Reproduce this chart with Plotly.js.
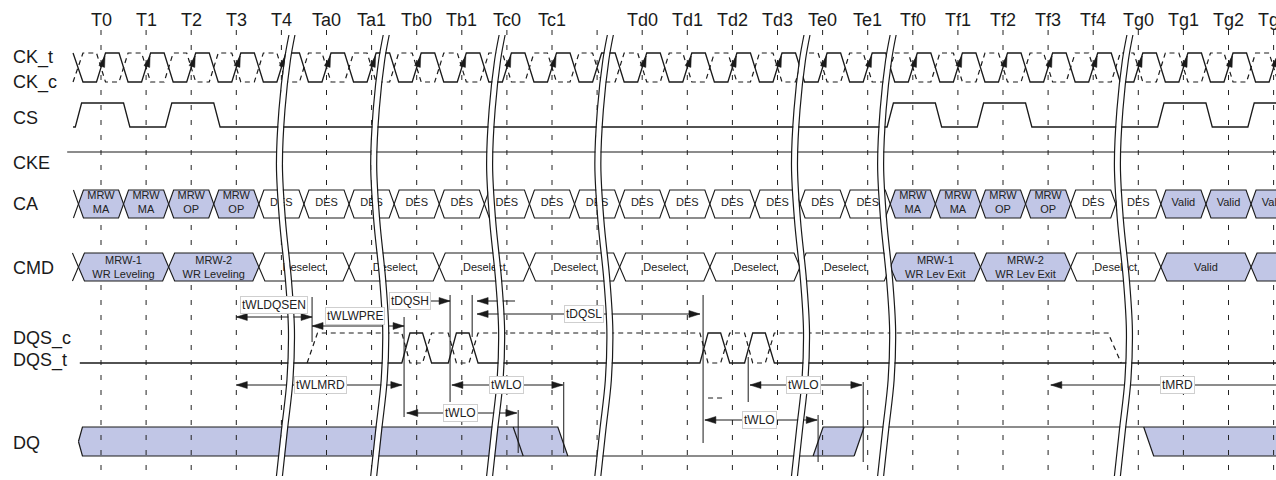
<!DOCTYPE html>
<html><head><meta charset="utf-8">
<script src="https://cdn.plot.ly/plotly-3.0.1.min.js"></script>
<style>html,body{margin:0;padding:0;background:#fff}#chart{width:1276px;height:480px}</style>
</head><body><div id="chart"></div>
<script>
// ---------------- DATA ----------------
const clockLabels = ['T0','T1','T2','T3','T4','Ta0','Ta1','Tb0','Tb1','Tc0','Tc1','','Td0','Td1','Td2','Td3','Te0','Te1','Tf0','Tf1','Tf2','Tf3','Tf4','Tg0','Tg1','Tg2','Tg3'];
const clockCycles = clockLabels.map((_, i) => i);
const signalNames = ['CK_t','CK_c','CS','CKE','CA','CMD','DQS_c','DQS_t','DQ'];
const csHighCycles = [0, 2, 18, 20, 24, 26];
const caLine1 = ['MRW','MRW','MRW','MRW','DES','DES','DES','DES','DES','DES','DES','DES','DES','DES','DES','DES','DES','DES','MRW','MRW','MRW','MRW','DES','DES','Valid','Valid','Valid'];
const caLine2 = ['MA','MA','OP','OP','','','','','','','','','','','','','','','MA','MA','OP','OP','','','','',''];
const caHighlight = [1,1,1,1,0,0,0,0,0,0,0,0,0,0,0,0,0,0,1,1,1,1,0,0,1,1,1];
const cmdStart = [-0.5, 1.5, 3.5, 5.5, 7.5, 9.5, 11.5, 13.5, 15.5, 17.5, 19.5, 21.5, 23.5, 25.5];
const cmdLine1 = ['MRW-1','MRW-2','Deselect','Deselect','Deselect','Deselect','Deselect','Deselect','Deselect','MRW-1','MRW-2','Deselect','Valid',''];
const cmdLine2 = ['WR Leveling','WR Leveling','','','','','','','','WR Lev Exit','WR Lev Exit','','',''];
const cmdHighlight = [1,1,0,0,0,0,0,0,0,1,1,0,1,1];
const dqsPulseCenters = [6.99, 8.02, 13.6, 14.59];
const dqsCActive = [4.68, 22.47];
const dqBand1 = [-0.5, 9.25, 10.24];   // start, early edge, late edge
const dqRiseWindow = [15.9, 16.81];
const dqBand2Start = 23.23;
const timingNames = ['tWLDQSEN','tWLWPRE','tDQSH','tDQSL','tWLMRD','tWLO','tWLO','tWLO','tWLO','tMRD'];
const timingStart = [3.0, 4.68, 7.74, 8.34, 3.0, 7.78, 6.78, 14.39, 13.39, 21.06];
const timingEnd   = [4.68, 6.72, 8.34, 13.28, 6.67, 10.24, 9.22, 16.87, 15.88, 26.4];
const markerCycles = [4.68, 6.72, 7.74, 8.23, 13.35, 14.35, 9.25, 10.26, 15.9, 16.9];
const breakCycles = [3.89, 5.98, 8.55, 10.95, 15.31, 17.22, 22.47];

// ---------------- LAYOUT / STYLE ----------------
const PXC = 45.1, T0PX = 101, W = 1276, H = 480;
const px = v => v / PXC;
const R = {ckH:53, ckL:82, csH:103, csL:127, cke:152, caT:190, caB:218, cmdT:253, cmdB:281, dqsH:333, dqsL:363, dqT:427, dqB:456};
const signalY = [57, 82, 118, 163, 204, 268, 338, 360, 443];
const BLUE = '#c1c6e6', INK = '#1a1a1a', FONT = 'Liberation Sans, Arial, sans-serif';
const timingStyle = [
  {y:317, lx:3.84, ly:305, kind:'out'},
  {y:326, lx:5.63, ly:316, kind:'out'},
  {y:301, lx:6.85, ly:301, kind:'in', tailL:0.5, tailR:0.84},
  {y:314, lx:10.71, ly:314, kind:'out'},
  {y:385, lx:4.86, ly:385, kind:'out'},
  {y:385, lx:8.98, ly:385, kind:'out'},
  {y:413, lx:7.98, ly:413, kind:'out'},
  {y:385, lx:15.57, ly:385, kind:'out'},
  {y:420, lx:14.59, ly:420, kind:'out'},
  {y:385, lx:23.86, ly:385, kind:'out'}
];
const markerY = [[297,342],[317,417],[295,402],[295,337],[295,443],[357,402],[410,453],[382,453],[415,462],[382,462]];

const traces = [];
function P(){ return {x:[], y:[]}; }
function add(p, pts){ pts.forEach(q => { p.x.push(q ? q[0] : null); p.y.push(q ? q[1] : null); }); }

// DQ blue areas
const dqFill = P();
const s = px(5);
add(dqFill, [[dqBand1[0], (R.dqT+R.dqB)/2],[dqBand1[0]+px(4),R.dqT],[dqBand1[2]-s,R.dqT],[dqBand1[2]+s,R.dqB],[dqBand1[0]+px(4),R.dqB],[dqBand1[0],(R.dqT+R.dqB)/2],null]);
add(dqFill, [[dqRiseWindow[0]-s,R.dqB],[dqRiseWindow[0]+s,R.dqT],[dqRiseWindow[1]+s,R.dqT],[dqRiseWindow[1]-s,R.dqB],[dqRiseWindow[0]-s,R.dqB],null]);
add(dqFill, [[dqBand2Start-s,R.dqT],[27,R.dqT],[27,R.dqB],[dqBand2Start+s,R.dqB],[dqBand2Start-s,R.dqT],null]);
traces.push({x:dqFill.x, y:dqFill.y, mode:'lines', fill:'toself', fillcolor:BLUE, line:{width:0}, hoverinfo:'skip'});

// grid
const grid = P();
clockCycles.forEach(c => add(grid, [[c,30],[c,H],null]));
traces.push({x:grid.x, y:grid.y, mode:'lines', line:{color:'#222', width:1, dash:'5px,10px'}, hoverinfo:'skip'});

// CA / CMD boxes
function hex(x0, x1, t, b, h){ const m=(t+b)/2; return [[x0,m],[x0+h,t],[x1-h,t],[x1,m],[x1-h,b],[x0+h,b],[x0,m],null]; }
const boxFill = P(), boxLine = P();
const hCA = px(5), hCMD = px(6);
clockCycles.forEach((c,i) => {
  const pts = hex(c-0.5, c+0.5, R.caT, R.caB, hCA);
  add(boxLine, pts); if (caHighlight[i]) add(boxFill, pts);
});
add(boxLine, [[-0.5-hCA,R.caT],[-0.5,(R.caT+R.caB)/2],[-0.5-hCA,R.caB],null]);
cmdStart.forEach((st,i) => {
  const pts = hex(st, st+2, R.cmdT, R.cmdB, hCMD);
  add(boxLine, pts); if (cmdHighlight[i]) add(boxFill, pts);
});
add(boxLine, [[-0.5-hCMD,R.cmdT],[-0.5,(R.cmdT+R.cmdB)/2],[-0.5-hCMD,R.cmdB],null]);
traces.push({x:boxFill.x, y:boxFill.y, mode:'lines', fill:'toself', fillcolor:BLUE, line:{width:0}, hoverinfo:'skip'});

// waveforms
const ckT = P(), ckC = P();
add(ckT, [[-0.62,R.ckH],[-0.4,R.ckL]]); add(ckC, [[-0.62,R.ckL],[-0.4,R.ckH]]);
clockCycles.forEach(k => {
  add(ckT, [[k-0.1,R.ckL],[k+0.1,R.ckH],[k+0.4,R.ckH],[k+0.6,R.ckL]]);
  add(ckC, [[k-0.1,R.ckH],[k+0.1,R.ckL],[k+0.4,R.ckL],[k+0.6,R.ckH]]);
});
traces.push({x:ckC.x, y:ckC.y, mode:'lines', line:{color:INK, width:1.2, dash:'5px,4px'}, hoverinfo:'skip'});
traces.push({x:ckT.x, y:ckT.y, mode:'lines', line:{color:INK, width:1.3}, hoverinfo:'skip'});

const cs = P();
add(cs, [[-0.62, R.csL]]);
csHighCycles.forEach(c => add(cs, [[c-0.57,R.csL],[c-0.43,R.csH],[c+0.5,R.csH],[c+0.64,R.csL]]));
add(cs, [[27,R.csL]]);
traces.push({x:cs.x, y:cs.y, mode:'lines', line:{color:INK, width:1.3}, hoverinfo:'skip'});
traces.push({x:[-0.75, 27], y:[R.cke, R.cke], mode:'lines', line:{color:INK, width:1.2}, hoverinfo:'skip'});
traces.push({x:boxLine.x, y:boxLine.y, mode:'lines', line:{color:INK, width:1.1}, hoverinfo:'skip'});

// DQS
const dqsT = P(), dqsC = P();
add(dqsT, [[-0.47,R.dqsL]]);
add(dqsC, [[dqsCActive[0]-0.11,R.dqsL],[dqsCActive[0]+0.12,R.dqsH]]);
dqsPulseCenters.forEach(c => {
  add(dqsT, [[c-0.32,R.dqsL],[c-0.14,R.dqsH],[c+0.14,R.dqsH],[c+0.34,R.dqsL]]);
  add(dqsC, [[c-0.32,R.dqsH],[c-0.14,R.dqsL],[c+0.14,R.dqsL],[c+0.34,R.dqsH]]);
});
add(dqsT, [[27,R.dqsL]]);
add(dqsC, [[dqsCActive[1]-0.14,R.dqsH],[dqsCActive[1]+0.15,R.dqsL]]);
traces.push({x:dqsC.x, y:dqsC.y, mode:'lines', line:{color:INK, width:1.2, dash:'5px,4px'}, hoverinfo:'skip'});
traces.push({x:[13.46,13.79], y:[398,398], mode:'lines', line:{color:INK, width:1, dash:'5px,4px'}, hoverinfo:'skip'});
traces.push({x:dqsT.x, y:dqsT.y, mode:'lines', line:{color:INK, width:1.3}, hoverinfo:'skip'});

// DQ lines
const dq = P();
add(dq, [[dqBand1[0],(R.dqT+R.dqB)/2],[dqBand1[0]+px(4),R.dqT],[dqBand1[2]-s,R.dqT],[dqBand1[2]+s,R.dqB],null]);
add(dq, [[dqBand1[0],(R.dqT+R.dqB)/2],[dqBand1[0]+px(4),R.dqB],[dqRiseWindow[1]-s,R.dqB],null]);
add(dq, [[dqBand1[1]-s,R.dqT],[dqBand1[1]+s,R.dqB],null]);
add(dq, [[dqRiseWindow[0]-s,R.dqB],[dqRiseWindow[0]+s,R.dqT],[27,R.dqT],null]);
add(dq, [[dqRiseWindow[1]-s,R.dqB],[dqRiseWindow[1]+s,R.dqT],null]);
add(dq, [[dqBand2Start-s,R.dqT],[dqBand2Start+s,R.dqB],[27,R.dqB],null]);
traces.push({x:dq.x, y:dq.y, mode:'lines', line:{color:INK, width:1.2}, hoverinfo:'skip'});

// box texts
traces.push({x:clockCycles, y:clockCycles.map(()=>203), mode:'text',
  text:caLine1.map((a,i)=> caLine2[i] ? a+'<br>'+caLine2[i] : a),
  textfont:{family:FONT, size:11, color:'#222'}, textposition:'middle center', hoverinfo:'skip'});
traces.push({x:cmdStart.map(v=>v+1), y:cmdStart.map(()=>268), mode:'text',
  text:cmdLine1.map((a,i)=> cmdLine2[i] ? a+'<br>'+cmdLine2[i] : a),
  textfont:{family:FONT, size:11, color:'#222'}, textposition:'middle center', hoverinfo:'skip'});

// timing lines, markers, arrowheads
const tl = P(), heads = P();
const L = px(11), hw = 3.5;
function head(xt, y, dir){ add(heads, [[xt,y],[xt-dir*L,y-hw],[xt-dir*L,y+hw],[xt,y],null]); }
timingNames.forEach((n,i) => {
  const st = timingStyle[i], a = timingStart[i], b = timingEnd[i];
  if (st.kind === 'out') { add(tl, [[a,st.y],[b,st.y],null]); head(a,st.y,-1); head(b,st.y,1); }
  else { add(tl, [[a-st.tailL,st.y],[a,st.y],null,[b,st.y],[b+st.tailR,st.y],null]); head(a,st.y,1); head(b,st.y,-1); }
});
markerCycles.forEach((c,i) => add(tl, [[c,markerY[i][0]],[c,markerY[i][1]],null]));
// clock edge arrows
clockCycles.forEach((c,i) => {
  if (!clockLabels[i]) return;
  add(heads, [[c+px(4),56],[c+px(3.6),67.4],[c+px(-2.1),65.6],[c+px(4),56],null]);
});
traces.push({x:tl.x, y:tl.y, mode:'lines', line:{color:INK, width:1}, hoverinfo:'skip'});
traces.push({x:heads.x, y:heads.y, mode:'lines', fill:'toself', fillcolor:INK, line:{color:INK, width:0.5}, hoverinfo:'skip'});

// break marks
const prY = [35, 60, 110, 165, 220, 280, 330, 380, 430, 476];
const prO = [12.5, 8, 2.5, 0, 3, 9, 12, 10.5, 5, 0];
breakCycles.forEach(b => {
  const mk = off => ({x: prO.map(o => b + px(o + off)), y: prY});
  const m = mk(3), l1 = mk(0), l2 = mk(6);
  traces.push({x:m.x, y:m.y, mode:'lines', line:{color:'#fff', width:5, shape:'spline'}, hoverinfo:'skip'});
  traces.push({x:l1.x, y:l1.y, mode:'lines', line:{color:INK, width:1.2, shape:'spline'}, hoverinfo:'skip'});
  traces.push({x:l2.x, y:l2.y, mode:'lines', line:{color:INK, width:1.2, shape:'spline'}, hoverinfo:'skip'});
});

// annotations
const ann = [];
clockCycles.forEach((c,i) => { if (clockLabels[i]) ann.push({x:c, y:20, xref:'x', yref:'y', text:clockLabels[i], showarrow:false, font:{family:FONT, size:18, color:INK}, xanchor:'center', yanchor:'middle'}); });
signalNames.forEach((n,i) => ann.push({x:11/W, xref:'paper', y:signalY[i], yref:'y', text:n, showarrow:false, font:{family:FONT, size:18, color:INK}, xanchor:'left', yanchor:'middle'}));
timingNames.forEach((n,i) => { const st = timingStyle[i]; ann.push({x:st.lx, y:st.ly, xref:'x', yref:'y', text:n, showarrow:false, font:{family:FONT, size:12, color:'#222'}, bgcolor:'#fff', bordercolor:'#cfcfcf', borderwidth:1, borderpad:1, xanchor:'center', yanchor:'middle'}); });

const layout = {
  width:W, height:H, margin:{l:0,r:0,t:0,b:0}, paper_bgcolor:'#fff', plot_bgcolor:'#fff',
  showlegend:false, hovermode:false,
  xaxis:{range:[(0-T0PX)/PXC, (W-T0PX)/PXC], visible:false, fixedrange:true},
  yaxis:{range:[H,0], visible:false, fixedrange:true},
  annotations: ann
};
Plotly.newPlot('chart', traces, layout, {staticPlot:true, displayModeBar:false});
</script></body></html>
